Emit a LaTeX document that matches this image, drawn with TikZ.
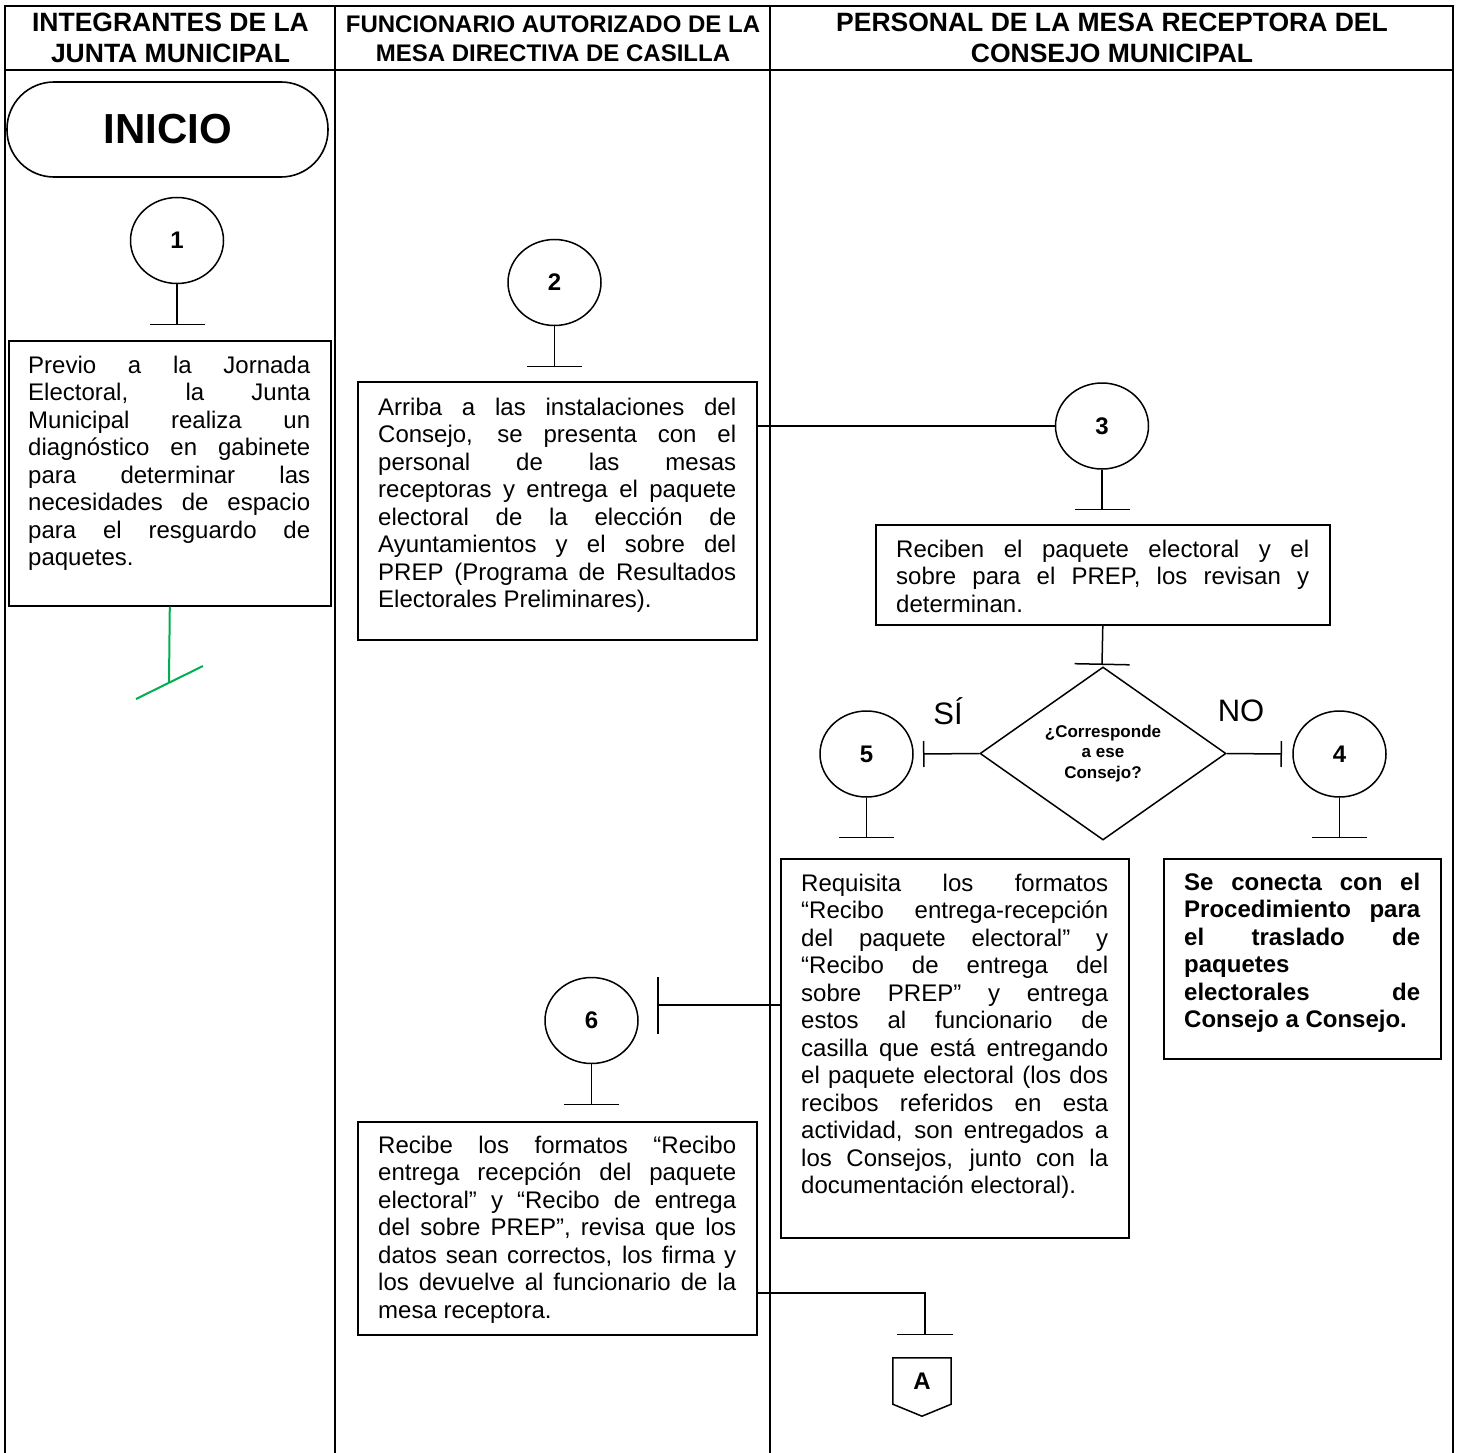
\documentclass[tikz,border=0pt]{standalone}
\usepackage{fontspec}
\setmainfont{Liberation Sans}
\usetikzlibrary{shapes.geometric,arrows.meta}
\definecolor{flowgreen}{RGB}{0,176,80}
\newcommand\J[2]{\makebox[#1pt][s]{#2}}
\begin{document}
\begin{tikzpicture}[x=1pt,y=-1pt,
  lanes/.style={line width=2.4pt},
  box/.style={draw, line width=1.6pt, inner sep=0pt, anchor=north west},
  body/.style={align=left, inner sep=0pt, anchor=north west, font=\fontsize{24}{27.5}\selectfont},
  conn/.style={draw, ellipse, line width=1.5pt, minimum width=93pt, minimum height=86pt, inner sep=0pt, font=\bfseries\fontsize{24}{28}\selectfont},
  tbar/.style={line width=1.5pt, -{Bar[width=#1]}},
  hdr/.style={align=center, inner sep=0pt, anchor=north, font=\bfseries\fontsize{26.5}{31}\selectfont}
]
\useasboundingbox (0,0) rectangle (1460,1453);
\fill[white] (0,0) rectangle (1460,1453);

% lanes
\draw[lanes] (5,1453) -- (5,6) -- (1453,6) -- (1453,1453);
\draw[lanes] (5,70) -- (1453,70);
\draw[lanes] (335,6) -- (335,1453);
\draw[lanes] (770,6) -- (770,1453);

% headers
\node[hdr] (h1) at (170.5,12.5) {INTEGRANTES DE LA\\JUNTA MUNICIPAL};
\node[hdr, font=\bfseries\fontsize{24}{29}\selectfont] (h2) at (553,15.5) {FUNCIONARIO AUTORIZADO DE LA\\MESA DIRECTIVA DE CASILLA};
\node[hdr] (h3) at (1112,12.5) {PERSONAL DE LA MESA RECEPTORA DEL\\CONSEJO MUNICIPAL};

% start
\node[draw, line width=1.6pt, rounded corners=47pt, minimum width=321pt, minimum height=95pt, inner sep=0pt, font=\bfseries\fontsize{42}{48}\selectfont] (inicio) at (167.5,129.5) {INICIO};

% step 1
\node[conn] (c1) at (177,240.5) {1};
\coordinate (t1) at (177,325);
\draw[tbar=55pt] (c1) -- (t1);
\node[box, minimum width=322pt, minimum height=265pt] (b1) at (8,340) {};
\node[body] (x1) at (28,355.8) {\J{282}{Previo a la Jornada}\\
\J{282}{Electoral, la Junta}\\
\J{282}{Municipal realiza un}\\
\J{282}{diagnóstico en gabinete}\\
\J{282}{para determinar las}\\
\J{282}{necesidades de espacio}\\
\J{282}{para el resguardo de}\\
paquetes.};
\coordinate (g) at (169,682);
\coordinate (ga) at (136,699);
\coordinate (gb) at (203,666);
\draw[flowgreen, line width=2pt] (b1.south) -- (g);
\draw[flowgreen, line width=2pt] (ga) -- (gb);

% step 2
\node[conn] (c2) at (554.5,282.5) {2};
\coordinate (t2) at (554.5,367);
\draw[tbar=55pt] (c2) -- (t2);
\node[box, minimum width=399pt, minimum height=258pt] (b2) at (357,381) {};
\node[body] (x2) at (378,397.8) {\J{358}{Arriba a las instalaciones del}\\
\J{358}{Consejo, se presenta con el}\\
\J{358}{personal de las mesas}\\
\J{358}{receptoras y entrega el paquete}\\
\J{358}{electoral de la elección de}\\
\J{358}{Ayuntamientos y el sobre del}\\
\J{358}{PREP (Programa de Resultados}\\
Electorales Preliminares).};

% step 3
\node[conn] (c3) at (1102,426) {3};
\draw[line width=1.5pt] (b2.east |- c3.west) -- (c3.west);
\coordinate (t3) at (1102,510);
\draw[tbar=55pt] (c3) -- (t3);
\node[box, minimum width=454pt, minimum height=100pt] (b3) at (875,524) {};
\node[body] (x3) at (896,539.8) {\J{413}{Reciben el paquete electoral y el}\\
\J{413}{sobre para el PREP, los revisan y}\\
determinan.};
\coordinate (tq) at (1102,665);
\draw[tbar=55pt] (b3.south) -- (tq);

% decision
\node[draw, diamond, line width=1.5pt, minimum width=246pt, minimum height=139pt, inner sep=0pt, align=center, font=\bfseries\fontsize{17}{20.5}\selectfont] (q) at (1103,753.5) {¿Corresponde\\a ese\\Consejo?};
\coordinate (t5s) at (923,754);
\coordinate (t4s) at (1282,754);
\draw[tbar=26pt] (q.west) -- (t5s);
\draw[tbar=26pt] (q.east) -- (t4s);
\node[font=\fontsize{31}{36}\selectfont, inner sep=0pt] (si) at (948,711) {SÍ};
\node[font=\fontsize{31}{36}\selectfont, inner sep=0pt] (no) at (1241,711) {NO};

% step 5
\node[conn] (c5) at (866.5,754) {5};
\coordinate (t5) at (866.5,838);
\draw[tbar=55pt] (c5) -- (t5);
\node[box, minimum width=348pt, minimum height=379pt] (b5) at (780,858) {};
\node[body] (x5) at (801,873.8) {\J{307}{Requisita los formatos}\\
\J{307}{“Recibo entrega-recepción}\\
\J{307}{del paquete electoral” y}\\
\J{307}{“Recibo de entrega del}\\
\J{307}{sobre PREP” y entrega}\\
\J{307}{estos al funcionario de}\\
\J{307}{casilla que está entregando}\\
\J{307}{el paquete electoral (los dos}\\
\J{307}{recibos referidos en esta}\\
\J{307}{actividad, son entregados a}\\
\J{307}{los Consejos, junto con la}\\
documentación electoral).};

% step 4
\node[conn] (c4) at (1339.5,754) {4};
\coordinate (t4) at (1339.5,838);
\draw[tbar=55pt] (c4) -- (t4);
\node[box, minimum width=277pt, minimum height=200pt] (b4) at (1163,858) {};
\node[body, font=\bfseries\fontsize{24}{27.5}\selectfont] (x4) at (1184,872.8) {\J{236}{Se conecta con el}\\
\J{236}{Procedimiento para}\\
\J{236}{el traslado de}\\
paquetes\\
\J{236}{electorales de}\\
Consejo a Consejo.};

% step 6
\node[conn] (c6) at (591.5,1020.5) {6};
\coordinate (t6s) at (657,1005);
\draw[tbar=57pt] (b5.west |- t6s) -- (t6s);
\coordinate (t6) at (591.5,1105);
\draw[tbar=55pt] (c6) -- (t6);
\node[box, minimum width=399pt, minimum height=213pt] (b6) at (357,1121) {};
\node[body] (x6) at (378,1135.8) {\J{358}{Recibe los formatos “Recibo}\\
\J{358}{entrega recepción del paquete}\\
\J{358}{electoral” y “Recibo de entrega}\\
\J{358}{del sobre PREP”, revisa que los}\\
\J{358}{datos sean correctos, los firma y}\\
\J{358}{los devuelve al funcionario de la}\\
mesa receptora.};

% off-page connector A
\coordinate (k) at (925,1293);
\coordinate (tA) at (925,1335);
\draw[tbar=56pt] (b6.east |- k) -- (k) -- (tA);
\node[inner sep=0pt, minimum width=58pt, minimum height=46pt, font=\bfseries\fontsize{24}{28}\selectfont] (A) at (922,1381) {A};
\draw[line width=1.5pt] (A.north west) -- (A.north east) -- (A.south east) -- ([yshift=-12pt]A.south) -- (A.south west) -- cycle;
\end{tikzpicture}
\end{document}
